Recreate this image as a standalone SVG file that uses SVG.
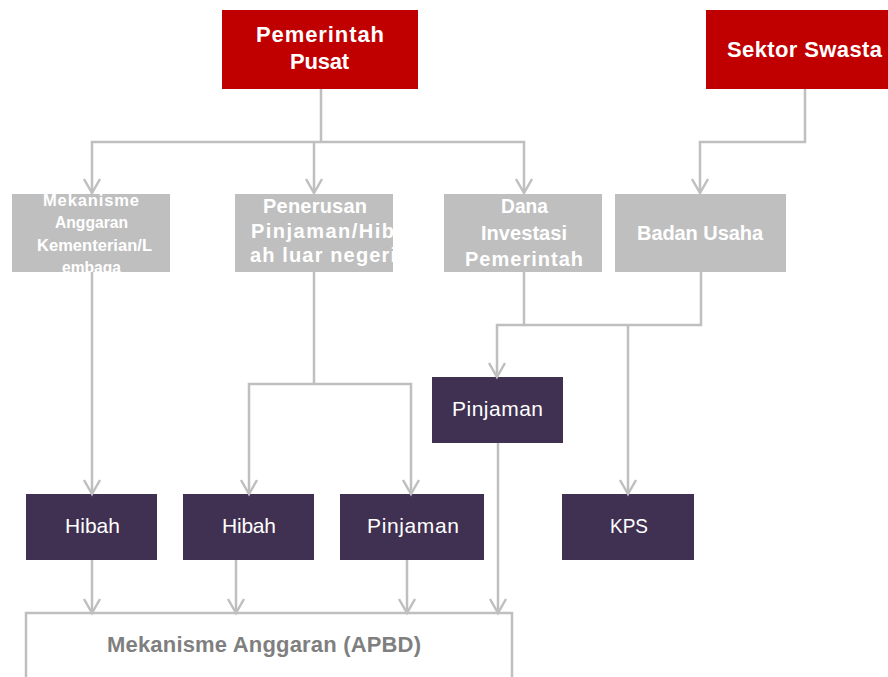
<svg xmlns="http://www.w3.org/2000/svg" width="888" height="677" viewBox="0 0 888 677">
<style>
.red{fill:#C00000}
.gray{fill:#BFBFBF}
.pur{fill:#403152}
.apbd{fill:#FFFFFF;stroke:#BFBFBF;stroke-width:2.5}
text{font-family:"Liberation Sans",Arial,sans-serif;fill:#FFFFFF}
.tb{font-weight:bold;font-size:22px}
.tg{font-weight:bold;font-size:20px}
.ts{font-weight:bold;font-size:16.5px}
.tp{font-size:21px}
.ta{font-weight:bold;font-size:22px;fill:#7F7F7F}
.c{fill:none;stroke:#BFBFBF;stroke-width:2.5}
.ca{fill:none;stroke:#BFBFBF;stroke-width:2.5;marker-end:url(#arr)}
</style>
<defs>
<marker id="arr" markerUnits="userSpaceOnUse" viewBox="-17 -10 19 20" refX="0" refY="0" markerWidth="19" markerHeight="20" orient="auto" overflow="visible">
<path d="M-14,-8 L0,0 L-14,8" fill="none" stroke="#BFBFBF" stroke-width="2.5"/>
</marker>
</defs>
<rect width="888" height="677" fill="#FFFFFF"/>

<g id="pemerintah-pusat">
<rect class="red" x="222" y="10" width="196" height="79"/>
<text class="tb" x="256" y="42" textLength="128" lengthAdjust="spacing">Pemerintah</text>
<text class="tb" x="290" y="69" textLength="59" lengthAdjust="spacing">Pusat</text>
</g>
<g id="sektor-swasta">
<rect class="red" x="706" y="10" width="190" height="79"/>
<text class="tb" x="727" y="57" textLength="155" lengthAdjust="spacing">Sektor Swasta</text>
</g>
<g id="mekanisme-kl">
<rect class="gray" x="12" y="194" width="158" height="78"/>
<text class="ts" x="43" y="206" textLength="96" lengthAdjust="spacing">Mekanisme</text>
<text class="ts" x="55" y="228" textLength="73" lengthAdjust="spacingAndGlyphs">Anggaran</text>
<text class="ts" x="37" y="251" textLength="115" lengthAdjust="spacing">Kementerian/L</text>
<text class="ts" x="62" y="273" textLength="59" lengthAdjust="spacingAndGlyphs">embaga</text>
</g>
<g id="penerusan">
<rect class="gray" x="235" y="194" width="158" height="78"/>
<text class="tg" x="263" y="213" textLength="104" lengthAdjust="spacing">Penerusan</text>
<text class="tg" x="251" y="238" textLength="143" lengthAdjust="spacing">Pinjaman/Hib</text>
<text class="tg" x="250" y="262" textLength="146" lengthAdjust="spacing">ah luar negeri</text>
</g>
<g id="dana-investasi">
<rect class="gray" x="444" y="194" width="158" height="78"/>
<text class="tg" x="501" y="213" textLength="47" lengthAdjust="spacingAndGlyphs">Dana</text>
<text class="tg" x="481" y="240" textLength="86" lengthAdjust="spacing">Investasi</text>
<text class="tg" x="465" y="266" textLength="118" lengthAdjust="spacing">Pemerintah</text>
</g>
<g id="badan-usaha">
<rect class="gray" x="615" y="194" width="171" height="78"/>
<text class="tg" x="637" y="240" textLength="126" lengthAdjust="spacing">Badan Usaha</text>
</g>
<g id="pinjaman-atas">
<rect class="pur" x="432" y="377" width="131" height="66"/>
<text class="tp" x="452" y="416" textLength="91" lengthAdjust="spacing">Pinjaman</text>
</g>
<g id="hibah-1">
<rect class="pur" x="26" y="494" width="131" height="66"/>
<text class="tp" x="65" y="533" textLength="55" lengthAdjust="spacing">Hibah</text>
</g>
<g id="hibah-2">
<rect class="pur" x="183" y="494" width="131" height="66"/>
<text class="tp" x="222" y="533" textLength="54" lengthAdjust="spacing">Hibah</text>
</g>
<g id="pinjaman-bawah">
<rect class="pur" x="340" y="494" width="144" height="66"/>
<text class="tp" x="367" y="533" textLength="92" lengthAdjust="spacing">Pinjaman</text>
</g>
<g id="kps">
<rect class="pur" x="562" y="494" width="132" height="66"/>
<text class="tp" x="610" y="533" textLength="38" lengthAdjust="spacingAndGlyphs">KPS</text>
</g>
<g id="apbd">
<rect class="apbd" x="26" y="613" width="486" height="90"/>
<text class="ta" x="107" y="652" textLength="314" lengthAdjust="spacing">Mekanisme Anggaran (APBD)</text>
</g>

<g id="connectors">
<path class="c" d="M321,89 V142"/>
<path class="ca" d="M321,142 H92 V193"/>
<path class="ca" d="M314,142 V193"/>
<path class="ca" d="M321,142 H524 V193"/>
<path class="ca" d="M805,89 V142 H700 V193"/>
<path class="ca" d="M92,272 V494"/>
<path class="c" d="M314,272 V384"/>
<path class="ca" d="M314,384 H249 V494"/>
<path class="ca" d="M314,384 H411 V494"/>
<path class="ca" d="M524,272 V325 H497 V377"/>
<path class="c" d="M701,272 V325 H524"/>
<path class="ca" d="M628,325 V494"/>
<path class="ca" d="M498,443 V613"/>
<path class="ca" d="M92,560 V613"/>
<path class="ca" d="M236,560 V613"/>
<path class="ca" d="M407,560 V613"/>
</g>
</svg>
